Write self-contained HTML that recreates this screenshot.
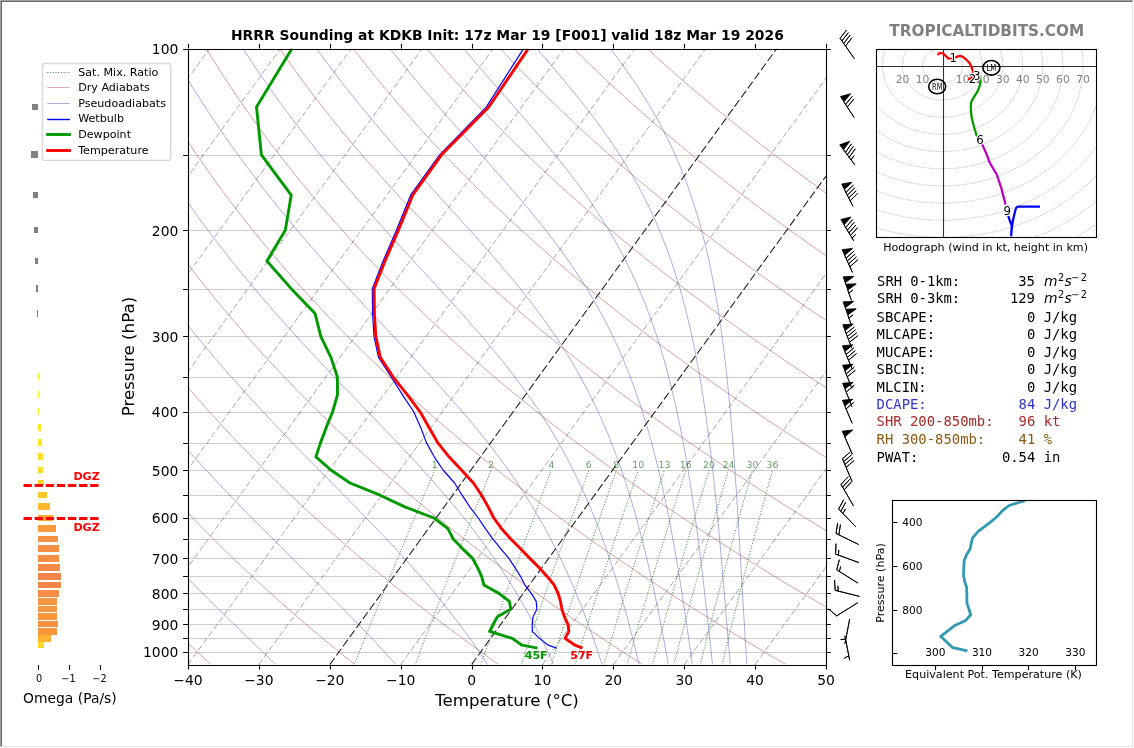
<!DOCTYPE html>
<html lang="en"><head><meta charset="utf-8"><title>HRRR Sounding at KDKB</title>
<style>
html,body{margin:0;padding:0;background:#fff;}
body{width:1134px;height:748px;overflow:hidden;font-family:"DejaVu Sans","Liberation Sans",sans-serif;}
svg{display:block;position:absolute;left:0;top:0}
text{white-space:pre}
</style></head><body>
<svg width="1134" height="748" viewBox="0 0 1134 748" font-family="'DejaVu Sans','Liberation Sans',sans-serif">
<title>HRRR Sounding at KDKB</title>
<rect x="0" y="0" width="1134" height="748" fill="#fff"/>
<clipPath id="cs"><rect x="188" y="48.6" width="638" height="616"/></clipPath>
<g clip-path="url(#cs)" fill="none">
<g stroke="#cccccc" stroke-width="1.11">
<path d="M188 155.5H826"/>
<path d="M188 230.5H826"/>
<path d="M188 289.5H826"/>
<path d="M188 336.5H826"/>
<path d="M188 377.5H826"/>
<path d="M188 412.5H826"/>
<path d="M188 443.5H826"/>
<path d="M188 470.5H826"/>
<path d="M188 495.5H826"/>
<path d="M188 518.5H826"/>
<path d="M188 539.5H826"/>
<path d="M188 558.5H826"/>
<path d="M188 576.5H826"/>
<path d="M188 593.5H826"/>
<path d="M188 609.5H826"/>
<path d="M188 624.5H826"/>
<path d="M188 638.5H826"/>
<path d="M188 652.5H826"/>
</g>
<g stroke="#a52a2a" stroke-width="0.7" stroke-opacity="0.62">
<path d="M211.18 664.6 L203.61 657.68 L196.13 650.76 L188.75 643.84 L181.47 636.91 L174.27 629.99 L167.17 623.07 L160.16 616.15 L153.24 609.23 L146.41 602.31 L139.67 595.39 L133.01 588.47 L126.45 581.54 L119.97 574.62 L113.57 567.7 L107.27 560.78 L101.05 553.86 L94.91 546.94 L88.85 540.02 L82.88 533.09 L77 526.17 L71.19 519.25 L65.47 512.33 L59.82 505.41 L54.26 498.49 L48.78 491.57 L43.37 484.64 L38.04 477.72 L32.79 470.8 L27.62 463.88 L22.53 456.96 L17.51 450.04 L12.56 443.12 L7.69 436.2 L2.9 429.27 L-1.82 422.35 L-6.47 415.43 L-11.04 408.51 L-15.55 401.59 L-19.98 394.67 L-24.34 387.75 L-28.63 380.82 L-32.85 373.9 L-37 366.98 L-41.08 360.06 L-45.1 353.14 L-49.04 346.22 L-52.92 339.3 L-56.73 332.38 L-60.48 325.45 L-64.16 318.53 L-67.77 311.61 L-71.32 304.69 L-74.8 297.77 L-78.22 290.85 L-81.58 283.93 L-84.88 277 L-88.11 270.08 L-91.28 263.16 L-94.39 256.24 L-97.43 249.32 L-100.42 242.4 L-103.35 235.48 L-106.21 228.56 L-109.02 221.63 L-111.77 214.71 L-114.46 207.79 L-117.09 200.87 L-119.67 193.95 L-122.18 187.03 L-124.65 180.11 L-127.05 173.18 L-129.4 166.26 L-131.69 159.34 L-133.93 152.42 L-136.12 145.5 L-138.25 138.58 L-140.32 131.66 L-142.35 124.73 L-144.32 117.81 L-146.24 110.89 L-148.1 103.97 L-149.92 97.05 L-151.68 90.13 L-153.39 83.21 L-155.05 76.29 L-156.66 69.36 L-158.22 62.44 L-159.73 55.52 L-161.2 48.6"/>
<path d="M354.94 664.6 L346.29 657.68 L337.75 650.76 L329.3 643.84 L320.96 636.91 L312.72 629.99 L304.58 623.07 L296.53 616.15 L288.59 609.23 L280.74 602.31 L272.99 595.39 L265.33 588.47 L257.77 581.54 L250.31 574.62 L242.94 567.7 L235.66 560.78 L228.47 553.86 L221.38 546.94 L214.37 540.02 L207.46 533.09 L200.64 526.17 L193.9 519.25 L187.26 512.33 L180.7 505.41 L174.23 498.49 L167.84 491.57 L161.54 484.64 L155.33 477.72 L149.2 470.8 L143.15 463.88 L137.19 456.96 L131.31 450.04 L125.51 443.12 L119.79 436.2 L114.15 429.27 L108.6 422.35 L103.12 415.43 L97.72 408.51 L92.4 401.59 L87.16 394.67 L81.99 387.75 L76.9 380.82 L71.89 373.9 L66.95 366.98 L62.09 360.06 L57.3 353.14 L52.59 346.22 L47.95 339.3 L43.38 332.38 L38.88 325.45 L34.45 318.53 L30.1 311.61 L25.82 304.69 L21.6 297.77 L17.46 290.85 L13.38 283.93 L9.37 277 L5.43 270.08 L1.56 263.16 L-2.25 256.24 L-5.99 249.32 L-9.66 242.4 L-13.27 235.48 L-16.81 228.56 L-20.29 221.63 L-23.7 214.71 L-27.06 207.79 L-30.35 200.87 L-33.57 193.95 L-36.74 187.03 L-39.84 180.11 L-42.88 173.18 L-45.86 166.26 L-48.79 159.34 L-51.65 152.42 L-54.45 145.5 L-57.19 138.58 L-59.88 131.66 L-62.51 124.73 L-65.08 117.81 L-67.59 110.89 L-70.05 103.97 L-72.45 97.05 L-74.79 90.13 L-77.08 83.21 L-79.31 76.29 L-81.49 69.36 L-83.62 62.44 L-85.69 55.52 L-87.71 48.6"/>
<path d="M498.71 664.6 L488.98 657.68 L479.36 650.76 L469.85 643.84 L460.46 636.91 L451.17 629.99 L441.98 623.07 L432.91 616.15 L423.94 609.23 L415.07 602.31 L406.31 595.39 L397.66 588.47 L389.1 581.54 L380.65 574.62 L372.3 567.7 L364.05 560.78 L355.9 553.86 L347.85 546.94 L339.89 540.02 L332.04 533.09 L324.28 526.17 L316.62 519.25 L309.05 512.33 L301.57 505.41 L294.19 498.49 L286.91 491.57 L279.71 484.64 L272.61 477.72 L265.6 470.8 L258.68 463.88 L251.85 456.96 L245.11 450.04 L238.45 443.12 L231.89 436.2 L225.41 429.27 L219.02 422.35 L212.71 415.43 L206.49 408.51 L200.35 401.59 L194.3 394.67 L188.33 387.75 L182.44 380.82 L176.63 373.9 L170.91 366.98 L165.26 360.06 L159.7 353.14 L154.22 346.22 L148.81 339.3 L143.48 332.38 L138.24 325.45 L133.06 318.53 L127.97 311.61 L122.95 304.69 L118.01 297.77 L113.14 290.85 L108.34 283.93 L103.62 277 L98.97 270.08 L94.4 263.16 L89.89 256.24 L85.46 249.32 L81.1 242.4 L76.81 235.48 L72.59 228.56 L68.44 221.63 L64.36 214.71 L60.35 207.79 L56.4 200.87 L52.52 193.95 L48.71 187.03 L44.97 180.11 L41.29 173.18 L37.67 166.26 L34.12 159.34 L30.64 152.42 L27.22 145.5 L23.86 138.58 L20.57 131.66 L17.34 124.73 L14.17 117.81 L11.06 110.89 L8.01 103.97 L5.02 97.05 L2.1 90.13 L-0.77 83.21 L-3.58 76.29 L-6.33 69.36 L-9.02 62.44 L-11.65 55.52 L-14.22 48.6"/>
<path d="M642.47 664.6 L631.66 657.68 L620.98 650.76 L610.4 643.84 L599.95 636.91 L589.61 629.99 L579.39 623.07 L569.28 616.15 L559.29 609.23 L549.41 602.31 L539.64 595.39 L529.98 588.47 L520.43 581.54 L510.99 574.62 L501.66 567.7 L492.44 560.78 L483.33 553.86 L474.32 546.94 L465.41 540.02 L456.61 533.09 L447.92 526.17 L439.33 519.25 L430.84 512.33 L422.45 505.41 L414.16 498.49 L405.97 491.57 L397.89 484.64 L389.9 477.72 L382 470.8 L374.21 463.88 L366.51 456.96 L358.91 450.04 L351.4 443.12 L343.98 436.2 L336.66 429.27 L329.43 422.35 L322.3 415.43 L315.25 408.51 L308.3 401.59 L301.43 394.67 L294.66 387.75 L287.97 380.82 L281.37 373.9 L274.86 366.98 L268.44 360.06 L262.1 353.14 L255.85 346.22 L249.68 339.3 L243.59 332.38 L237.59 325.45 L231.67 318.53 L225.84 311.61 L220.08 304.69 L214.41 297.77 L208.82 290.85 L203.3 283.93 L197.87 277 L192.51 270.08 L187.24 263.16 L182.03 256.24 L176.91 249.32 L171.86 242.4 L166.89 235.48 L161.99 228.56 L157.17 221.63 L152.42 214.71 L147.75 207.79 L143.15 200.87 L138.62 193.95 L134.16 187.03 L129.77 180.11 L125.46 173.18 L121.21 166.26 L117.03 159.34 L112.93 152.42 L108.89 145.5 L104.92 138.58 L101.01 131.66 L97.18 124.73 L93.41 117.81 L89.7 110.89 L86.07 103.97 L82.49 97.05 L78.98 90.13 L75.54 83.21 L72.16 76.29 L68.84 69.36 L65.59 62.44 L62.39 55.52 L59.26 48.6"/>
<path d="M786.24 664.6 L774.35 657.68 L762.59 650.76 L750.95 643.84 L739.45 636.91 L728.06 629.99 L716.8 623.07 L705.66 616.15 L694.64 609.23 L683.74 602.31 L672.96 595.39 L662.3 588.47 L651.76 581.54 L641.34 574.62 L631.03 567.7 L620.83 560.78 L610.75 553.86 L600.79 546.94 L590.93 540.02 L581.19 533.09 L571.56 526.17 L562.04 519.25 L552.63 512.33 L543.32 505.41 L534.13 498.49 L525.04 491.57 L516.06 484.64 L507.18 477.72 L498.41 470.8 L489.74 463.88 L481.17 456.96 L472.71 450.04 L464.34 443.12 L456.08 436.2 L447.92 429.27 L439.85 422.35 L431.89 415.43 L424.02 408.51 L416.25 401.59 L408.57 394.67 L400.99 387.75 L393.51 380.82 L386.12 373.9 L378.82 366.98 L371.61 360.06 L364.5 353.14 L357.48 346.22 L350.54 339.3 L343.7 332.38 L336.95 325.45 L330.28 318.53 L323.71 311.61 L317.22 304.69 L310.81 297.77 L304.5 290.85 L298.26 283.93 L292.12 277 L286.05 270.08 L280.07 263.16 L274.17 256.24 L268.36 249.32 L262.62 242.4 L256.97 235.48 L251.4 228.56 L245.9 221.63 L240.49 214.71 L235.15 207.79 L229.89 200.87 L224.71 193.95 L219.61 187.03 L214.58 180.11 L209.63 173.18 L204.75 166.26 L199.94 159.34 L195.21 152.42 L190.56 145.5 L185.97 138.58 L181.46 131.66 L177.02 124.73 L172.65 117.81 L168.35 110.89 L164.12 103.97 L159.96 97.05 L155.87 90.13 L151.85 83.21 L147.9 76.29 L144.01 69.36 L140.19 62.44 L136.44 55.52 L132.75 48.6"/>
<path d="M930 664.6 L917.04 657.68 L904.2 650.76 L891.51 643.84 L878.94 636.91 L866.51 629.99 L854.2 623.07 L842.03 616.15 L829.99 609.23 L818.07 602.31 L806.29 595.39 L794.62 588.47 L783.09 581.54 L771.68 574.62 L760.39 567.7 L749.22 560.78 L738.18 553.86 L727.26 546.94 L716.45 540.02 L705.77 533.09 L695.2 526.17 L684.75 519.25 L674.42 512.33 L664.2 505.41 L654.1 498.49 L644.11 491.57 L634.23 484.64 L624.46 477.72 L614.81 470.8 L605.27 463.88 L595.83 456.96 L586.5 450.04 L577.29 443.12 L568.18 436.2 L559.17 429.27 L550.27 422.35 L541.48 415.43 L532.78 408.51 L524.2 401.59 L515.71 394.67 L507.32 387.75 L499.04 380.82 L490.86 373.9 L482.77 366.98 L474.79 360.06 L466.9 353.14 L459.11 346.22 L451.41 339.3 L443.81 332.38 L436.3 325.45 L428.89 318.53 L421.58 311.61 L414.35 304.69 L407.22 297.77 L400.18 290.85 L393.23 283.93 L386.37 277 L379.59 270.08 L372.91 263.16 L366.31 256.24 L359.81 249.32 L353.39 242.4 L347.05 235.48 L340.8 228.56 L334.63 221.63 L328.55 214.71 L322.55 207.79 L316.64 200.87 L310.81 193.95 L305.06 187.03 L299.38 180.11 L293.79 173.18 L288.28 166.26 L282.85 159.34 L277.5 152.42 L272.22 145.5 L267.03 138.58 L261.91 131.66 L256.86 124.73 L251.89 117.81 L247 110.89 L242.18 103.97 L237.43 97.05 L232.76 90.13 L228.16 83.21 L223.63 76.29 L219.18 69.36 L214.79 62.44 L210.48 55.52 L206.24 48.6"/>
<path d="M1073.77 664.6 L1059.72 657.68 L1045.82 650.76 L1032.06 643.84 L1018.43 636.91 L1004.95 629.99 L991.61 623.07 L978.41 616.15 L965.34 609.23 L952.41 602.31 L939.61 595.39 L926.95 588.47 L914.42 581.54 L902.02 574.62 L889.75 567.7 L877.61 560.78 L865.61 553.86 L853.73 546.94 L841.97 540.02 L830.34 533.09 L818.84 526.17 L807.46 519.25 L796.21 512.33 L785.07 505.41 L774.06 498.49 L763.17 491.57 L752.4 484.64 L741.75 477.72 L731.21 470.8 L720.79 463.88 L710.49 456.96 L700.3 450.04 L690.23 443.12 L680.27 436.2 L670.42 429.27 L660.69 422.35 L651.06 415.43 L641.55 408.51 L632.14 401.59 L622.85 394.67 L613.66 387.75 L604.57 380.82 L595.6 373.9 L586.73 366.98 L577.96 360.06 L569.3 353.14 L560.73 346.22 L552.28 339.3 L543.92 332.38 L535.66 325.45 L527.5 318.53 L519.45 311.61 L511.49 304.69 L503.62 297.77 L495.86 290.85 L488.19 283.93 L480.61 277 L473.13 270.08 L465.75 263.16 L458.45 256.24 L451.25 249.32 L444.15 242.4 L437.13 235.48 L430.2 228.56 L423.37 221.63 L416.62 214.71 L409.96 207.79 L403.39 200.87 L396.9 193.95 L390.5 187.03 L384.19 180.11 L377.96 173.18 L371.82 166.26 L365.76 159.34 L359.79 152.42 L353.89 145.5 L348.08 138.58 L342.35 131.66 L336.7 124.73 L331.13 117.81 L325.64 110.89 L320.23 103.97 L314.9 97.05 L309.65 90.13 L304.47 83.21 L299.37 76.29 L294.35 69.36 L289.4 62.44 L284.52 55.52 L279.72 48.6"/>
<path d="M1217.54 664.6 L1202.41 657.68 L1187.43 650.76 L1172.61 643.84 L1157.93 636.91 L1143.4 629.99 L1129.02 623.07 L1114.78 616.15 L1100.69 609.23 L1086.74 602.31 L1072.93 595.39 L1059.27 588.47 L1045.75 581.54 L1032.36 574.62 L1019.12 567.7 L1006.01 560.78 L993.03 553.86 L980.2 546.94 L967.49 540.02 L954.92 533.09 L942.48 526.17 L930.18 519.25 L918 512.33 L905.95 505.41 L894.03 498.49 L882.24 491.57 L870.57 484.64 L859.03 477.72 L847.62 470.8 L836.32 463.88 L825.15 456.96 L814.1 450.04 L803.18 443.12 L792.37 436.2 L781.68 429.27 L771.11 422.35 L760.65 415.43 L750.32 408.51 L740.09 401.59 L729.98 394.67 L719.99 387.75 L710.11 380.82 L700.34 373.9 L690.68 366.98 L681.13 360.06 L671.69 353.14 L662.36 346.22 L653.14 339.3 L644.03 332.38 L635.02 325.45 L626.11 318.53 L617.31 311.61 L608.62 304.69 L600.03 297.77 L591.54 290.85 L583.15 283.93 L574.86 277 L566.67 270.08 L558.59 263.16 L550.6 256.24 L542.7 249.32 L534.91 242.4 L527.21 235.48 L519.61 228.56 L512.1 221.63 L504.68 214.71 L497.36 207.79 L490.13 200.87 L483 193.95 L475.95 187.03 L469 180.11 L462.13 173.18 L455.36 166.26 L448.67 159.34 L442.07 152.42 L435.56 145.5 L429.14 138.58 L422.8 131.66 L416.54 124.73 L410.38 117.81 L404.29 110.89 L398.29 103.97 L392.37 97.05 L386.54 90.13 L380.78 83.21 L375.11 76.29 L369.51 69.36 L364 62.44 L358.57 55.52 L353.21 48.6"/>
<path d="M1361.3 664.6 L1345.09 657.68 L1329.05 650.76 L1313.16 643.84 L1297.42 636.91 L1281.85 629.99 L1266.42 623.07 L1251.15 616.15 L1236.04 609.23 L1221.07 602.31 L1206.26 595.39 L1191.59 588.47 L1177.07 581.54 L1162.7 574.62 L1148.48 567.7 L1134.4 560.78 L1120.46 553.86 L1106.66 546.94 L1093.01 540.02 L1079.5 533.09 L1066.12 526.17 L1052.89 519.25 L1039.79 512.33 L1026.83 505.41 L1014 498.49 L1001.3 491.57 L988.74 484.64 L976.32 477.72 L964.02 470.8 L951.85 463.88 L939.81 456.96 L927.9 450.04 L916.12 443.12 L904.46 436.2 L892.93 429.27 L881.53 422.35 L870.24 415.43 L859.08 408.51 L848.04 401.59 L837.12 394.67 L826.32 387.75 L815.64 380.82 L805.08 373.9 L794.64 366.98 L784.31 360.06 L774.09 353.14 L763.99 346.22 L754.01 339.3 L744.14 332.38 L734.37 325.45 L724.72 318.53 L715.18 311.61 L705.75 304.69 L696.43 297.77 L687.22 290.85 L678.11 283.93 L669.11 277 L660.21 270.08 L651.42 263.16 L642.74 256.24 L634.15 249.32 L625.67 242.4 L617.29 235.48 L609.01 228.56 L600.83 221.63 L592.75 214.71 L584.76 207.79 L576.88 200.87 L569.09 193.95 L561.4 187.03 L553.8 180.11 L546.3 173.18 L538.89 166.26 L531.58 159.34 L524.36 152.42 L517.23 145.5 L510.19 138.58 L503.24 131.66 L496.39 124.73 L489.62 117.81 L482.94 110.89 L476.35 103.97 L469.84 97.05 L463.42 90.13 L457.09 83.21 L450.84 76.29 L444.68 69.36 L438.6 62.44 L432.61 55.52 L426.7 48.6"/>
<path d="M1505.07 664.6 L1487.78 657.68 L1470.66 650.76 L1453.71 643.84 L1436.92 636.91 L1420.29 629.99 L1403.83 623.07 L1387.53 616.15 L1371.39 609.23 L1355.41 602.31 L1339.58 595.39 L1323.92 588.47 L1308.4 581.54 L1293.05 574.62 L1277.84 567.7 L1262.79 560.78 L1247.89 553.86 L1233.13 546.94 L1218.53 540.02 L1204.07 533.09 L1189.76 526.17 L1175.6 519.25 L1161.58 512.33 L1147.7 505.41 L1133.97 498.49 L1120.37 491.57 L1106.92 484.64 L1093.6 477.72 L1080.42 470.8 L1067.38 463.88 L1054.47 456.96 L1041.7 450.04 L1029.06 443.12 L1016.56 436.2 L1004.19 429.27 L991.94 422.35 L979.83 415.43 L967.85 408.51 L955.99 401.59 L944.26 394.67 L932.66 387.75 L921.18 380.82 L909.82 373.9 L898.59 366.98 L887.48 360.06 L876.49 353.14 L865.62 346.22 L854.87 339.3 L844.24 332.38 L833.73 325.45 L823.33 318.53 L813.05 311.61 L802.89 304.69 L792.84 297.77 L782.9 290.85 L773.07 283.93 L763.36 277 L753.75 270.08 L744.26 263.16 L734.88 256.24 L725.6 249.32 L716.43 242.4 L707.37 235.48 L698.41 228.56 L689.56 221.63 L680.81 214.71 L672.17 207.79 L663.63 200.87 L655.19 193.95 L646.85 187.03 L638.61 180.11 L630.47 173.18 L622.43 166.26 L614.49 159.34 L606.65 152.42 L598.9 145.5 L591.25 138.58 L583.69 131.66 L576.23 124.73 L568.86 117.81 L561.58 110.89 L554.4 103.97 L547.31 97.05 L540.31 90.13 L533.4 83.21 L526.58 76.29 L519.85 69.36 L513.21 62.44 L506.65 55.52 L500.18 48.6"/>
<path d="M1648.83 664.6 L1630.47 657.68 L1612.27 650.76 L1594.26 643.84 L1576.41 636.91 L1558.74 629.99 L1541.24 623.07 L1523.9 616.15 L1506.74 609.23 L1489.74 602.31 L1472.91 595.39 L1456.24 588.47 L1439.73 581.54 L1423.39 574.62 L1407.2 567.7 L1391.18 560.78 L1375.31 553.86 L1359.6 546.94 L1344.05 540.02 L1328.65 533.09 L1313.4 526.17 L1298.31 519.25 L1283.37 512.33 L1268.58 505.41 L1253.93 498.49 L1239.44 491.57 L1225.09 484.64 L1210.88 477.72 L1196.82 470.8 L1182.91 463.88 L1169.13 456.96 L1155.5 450.04 L1142.01 443.12 L1128.66 436.2 L1115.44 429.27 L1102.36 422.35 L1089.42 415.43 L1076.61 408.51 L1063.94 401.59 L1051.4 394.67 L1038.99 387.75 L1026.71 380.82 L1014.56 373.9 L1002.55 366.98 L990.65 360.06 L978.89 353.14 L967.25 346.22 L955.74 339.3 L944.35 332.38 L933.09 325.45 L921.94 318.53 L910.92 311.61 L900.02 304.69 L889.24 297.77 L878.58 290.85 L868.03 283.93 L857.61 277 L847.29 270.08 L837.1 263.16 L827.02 256.24 L817.05 249.32 L807.19 242.4 L797.45 235.48 L787.81 228.56 L778.29 221.63 L768.88 214.71 L759.57 207.79 L750.37 200.87 L741.28 193.95 L732.3 187.03 L723.42 180.11 L714.64 173.18 L705.97 166.26 L697.4 159.34 L688.93 152.42 L680.57 145.5 L672.3 138.58 L664.14 131.66 L656.07 124.73 L648.1 117.81 L640.23 110.89 L632.46 103.97 L624.78 97.05 L617.2 90.13 L609.71 83.21 L602.32 76.29 L595.02 69.36 L587.81 62.44 L580.69 55.52 L573.67 48.6"/>
<path d="M1792.6 664.6 L1773.15 657.68 L1753.89 650.76 L1734.81 643.84 L1715.91 636.91 L1697.19 629.99 L1678.64 623.07 L1660.28 616.15 L1642.09 609.23 L1624.07 602.31 L1606.23 595.39 L1588.56 588.47 L1571.06 581.54 L1553.73 574.62 L1536.57 567.7 L1519.57 560.78 L1502.74 553.86 L1486.07 546.94 L1469.57 540.02 L1453.23 533.09 L1437.05 526.17 L1421.02 519.25 L1405.16 512.33 L1389.45 505.41 L1373.9 498.49 L1358.5 491.57 L1343.26 484.64 L1328.17 477.72 L1313.23 470.8 L1298.44 463.88 L1283.8 456.96 L1269.3 450.04 L1254.95 443.12 L1240.75 436.2 L1226.69 429.27 L1212.78 422.35 L1199.01 415.43 L1185.38 408.51 L1171.89 401.59 L1158.54 394.67 L1145.32 387.75 L1132.25 380.82 L1119.31 373.9 L1106.5 366.98 L1093.83 360.06 L1081.29 353.14 L1068.88 346.22 L1056.61 339.3 L1044.46 332.38 L1032.44 325.45 L1020.55 318.53 L1008.79 311.61 L997.16 304.69 L985.65 297.77 L974.26 290.85 L963 283.93 L951.85 277 L940.83 270.08 L929.94 263.16 L919.16 256.24 L908.49 249.32 L897.95 242.4 L887.53 235.48 L877.22 228.56 L867.02 221.63 L856.94 214.71 L846.97 207.79 L837.12 200.87 L827.38 193.95 L817.74 187.03 L808.22 180.11 L798.81 173.18 L789.5 166.26 L780.31 159.34 L771.22 152.42 L762.23 145.5 L753.36 138.58 L744.58 131.66 L735.91 124.73 L727.34 117.81 L718.88 110.89 L710.51 103.97 L702.25 97.05 L694.09 90.13 L686.02 83.21 L678.05 76.29 L670.19 69.36 L662.41 62.44 L654.74 55.52 L647.16 48.6"/>
</g>
<g stroke="#0000a8" stroke-width="0.7" stroke-opacity="0.47">
<path d="M-124.45 48.6 L-122.71 55.52 L-120.92 62.44 L-119.08 69.36 L-117.18 76.29 L-115.23 83.21 L-113.23 90.13 L-111.18 97.05 L-109.07 103.97 L-106.91 110.89 L-104.69 117.81 L-102.42 124.73 L-100.1 131.66 L-97.72 138.58 L-95.28 145.5 L-92.78 152.42 L-90.23 159.34 L-87.63 166.26 L-84.96 173.18 L-82.24 180.11 L-79.45 187.03 L-76.61 193.95 L-73.71 200.87 L-70.75 207.79 L-67.73 214.71 L-64.65 221.63 L-61.5 228.56 L-58.3 235.48 L-55.03 242.4 L-51.7 249.32 L-48.3 256.24 L-44.85 263.16 L-41.33 270.08 L-37.74 277 L-34.09 283.93 L-30.37 290.85 L-26.59 297.77 L-22.74 304.69 L-18.82 311.61 L-14.84 318.53 L-10.78 325.45 L-6.66 332.38 L-2.47 339.3 L1.79 346.22 L6.12 353.14 L10.52 360.06 L14.99 366.98 L19.54 373.9 L24.15 380.82 L28.84 387.75 L33.61 394.67 L38.44 401.59 L43.35 408.51 L48.34 415.43 L53.4 422.35 L58.53 429.27 L63.74 436.2 L69.03 443.12 L74.4 450.04 L79.84 456.96 L85.36 463.88 L90.96 470.8 L96.63 477.72 L102.39 484.64 L108.22 491.57 L114.13 498.49 L120.11 505.41 L126.18 512.33 L132.32 519.25 L138.54 526.17 L144.83 533.09 L151.2 540.02 L157.65 546.94 L164.17 553.86 L170.75 560.78 L177.41 567.7 L184.13 574.62 L190.92 581.54 L197.77 588.47 L204.68 595.39 L211.64 602.31 L218.65 609.23 L225.71 616.15 L232.8 623.07 L239.93 629.99 L247.09 636.91 L254.27 643.84 L261.46 650.76 L268.67 657.68 L275.87 664.6"/>
<path d="M-50.97 48.6 L-48.67 55.52 L-46.32 62.44 L-43.91 69.36 L-41.44 76.29 L-38.92 83.21 L-36.34 90.13 L-33.71 97.05 L-31.01 103.97 L-28.26 110.89 L-25.45 117.81 L-22.58 124.73 L-19.65 131.66 L-16.66 138.58 L-13.61 145.5 L-10.5 152.42 L-7.32 159.34 L-4.09 166.26 L-0.79 173.18 L2.57 180.11 L5.99 187.03 L9.48 193.95 L13.04 200.87 L16.65 207.79 L20.34 214.71 L24.09 221.63 L27.9 228.56 L31.78 235.48 L35.73 242.4 L39.75 249.32 L43.84 256.24 L47.99 263.16 L52.21 270.08 L56.51 277 L60.87 283.93 L65.31 290.85 L69.82 297.77 L74.39 304.69 L79.04 311.61 L83.77 318.53 L88.57 325.45 L93.44 332.38 L98.38 339.3 L103.4 346.22 L108.5 353.14 L113.67 360.06 L118.92 366.98 L124.24 373.9 L129.64 380.82 L135.12 387.75 L140.67 394.67 L146.3 401.59 L152.01 408.51 L157.79 415.43 L163.65 422.35 L169.59 429.27 L175.61 436.2 L181.7 443.12 L187.86 450.04 L194.1 456.96 L200.41 463.88 L206.79 470.8 L213.24 477.72 L219.76 484.64 L226.34 491.57 L232.99 498.49 L239.69 505.41 L246.45 512.33 L253.25 519.25 L260.11 526.17 L267 533.09 L273.93 540.02 L280.89 546.94 L287.87 553.86 L294.87 560.78 L301.87 567.7 L308.87 574.62 L315.86 581.54 L322.84 588.47 L329.79 595.39 L336.7 602.31 L343.57 609.23 L350.38 616.15 L357.13 623.07 L363.81 629.99 L370.41 636.91 L376.93 643.84 L383.35 650.76 L389.67 657.68 L395.89 664.6"/>
<path d="M22.52 48.6 L25.37 55.52 L28.29 62.44 L31.26 69.36 L34.29 76.29 L37.39 83.21 L40.54 90.13 L43.76 97.05 L47.04 103.97 L50.38 110.89 L53.79 117.81 L57.26 124.73 L60.8 131.66 L64.39 138.58 L68.06 145.5 L71.79 152.42 L75.58 159.34 L79.45 166.26 L83.38 173.18 L87.38 180.11 L91.44 187.03 L95.58 193.95 L99.78 200.87 L104.06 207.79 L108.4 214.71 L112.81 221.63 L117.3 228.56 L121.86 235.48 L126.49 242.4 L131.19 249.32 L135.97 256.24 L140.82 263.16 L145.74 270.08 L150.74 277 L155.81 283.93 L160.96 290.85 L166.18 297.77 L171.48 304.69 L176.85 311.61 L182.31 318.53 L187.83 325.45 L193.44 332.38 L199.12 339.3 L204.87 346.22 L210.7 353.14 L216.61 360.06 L222.59 366.98 L228.64 373.9 L234.77 380.82 L240.97 387.75 L247.23 394.67 L253.57 401.59 L259.96 408.51 L266.42 415.43 L272.94 422.35 L279.52 429.27 L286.15 436.2 L292.82 443.12 L299.53 450.04 L306.28 456.96 L313.07 463.88 L319.87 470.8 L326.69 477.72 L333.52 484.64 L340.34 491.57 L347.16 498.49 L353.96 505.41 L360.74 512.33 L367.47 519.25 L374.16 526.17 L380.8 533.09 L387.37 540.02 L393.86 546.94 L400.28 553.86 L406.6 560.78 L412.83 567.7 L418.95 574.62 L424.97 581.54 L430.87 588.47 L436.65 595.39 L442.31 602.31 L447.85 609.23 L453.26 616.15 L458.54 623.07 L463.7 629.99 L468.73 636.91 L473.63 643.84 L478.41 650.76 L483.07 657.68 L487.61 664.6"/>
<path d="M96.01 48.6 L99.42 55.52 L102.89 62.44 L106.43 69.36 L110.03 76.29 L113.7 83.21 L117.43 90.13 L121.23 97.05 L125.1 103.97 L129.03 110.89 L133.03 117.81 L137.1 124.73 L141.24 131.66 L145.45 138.58 L149.72 145.5 L154.07 152.42 L158.49 159.34 L162.98 166.26 L167.54 173.18 L172.17 180.11 L176.88 187.03 L181.66 193.95 L186.51 200.87 L191.44 207.79 L196.44 214.71 L201.51 221.63 L206.66 228.56 L211.89 235.48 L217.19 242.4 L222.56 249.32 L228.01 256.24 L233.54 263.16 L239.14 270.08 L244.82 277 L250.57 283.93 L256.39 290.85 L262.29 297.77 L268.26 304.69 L274.3 311.61 L280.41 318.53 L286.59 325.45 L292.83 332.38 L299.13 339.3 L305.49 346.22 L311.91 353.14 L318.38 360.06 L324.9 366.98 L331.46 373.9 L338.05 380.82 L344.68 387.75 L351.33 394.67 L357.99 401.59 L364.66 408.51 L371.33 415.43 L377.99 422.35 L384.64 429.27 L391.25 436.2 L397.82 443.12 L404.35 450.04 L410.82 456.96 L417.22 463.88 L423.54 470.8 L429.78 477.72 L435.92 484.64 L441.97 491.57 L447.9 498.49 L453.72 505.41 L459.42 512.33 L465 519.25 L470.45 526.17 L475.77 533.09 L480.96 540.02 L486.02 546.94 L490.94 553.86 L495.74 560.78 L500.41 567.7 L504.94 574.62 L509.36 581.54 L513.65 588.47 L517.82 595.39 L521.87 602.31 L525.81 609.23 L529.64 616.15 L533.37 623.07 L536.99 629.99 L540.51 636.91 L543.94 643.84 L547.28 650.76 L550.53 657.68 L553.7 664.6"/>
<path d="M169.49 48.6 L173.46 55.52 L177.49 62.44 L181.59 69.36 L185.77 76.29 L190.01 83.21 L194.32 90.13 L198.7 97.05 L203.15 103.97 L207.67 110.89 L212.27 117.81 L216.93 124.73 L221.67 131.66 L226.48 138.58 L231.37 145.5 L236.33 152.42 L241.36 159.34 L246.47 166.26 L251.66 173.18 L256.91 180.11 L262.25 187.03 L267.65 193.95 L273.13 200.87 L278.69 207.79 L284.32 214.71 L290.02 221.63 L295.8 228.56 L301.64 235.48 L307.56 242.4 L313.54 249.32 L319.59 256.24 L325.71 263.16 L331.88 270.08 L338.12 277 L344.41 283.93 L350.75 290.85 L357.14 297.77 L363.57 304.69 L370.03 311.61 L376.52 318.53 L383.03 325.45 L389.56 332.38 L396.09 339.3 L402.62 346.22 L409.13 353.14 L415.63 360.06 L422.09 366.98 L428.5 373.9 L434.87 380.82 L441.17 387.75 L447.4 394.67 L453.55 401.59 L459.6 408.51 L465.56 415.43 L471.4 422.35 L477.14 429.27 L482.75 436.2 L488.24 443.12 L493.6 450.04 L498.82 456.96 L503.92 463.88 L508.87 470.8 L513.69 477.72 L518.38 484.64 L522.93 491.57 L527.35 498.49 L531.64 505.41 L535.8 512.33 L539.83 519.25 L543.75 526.17 L547.54 533.09 L551.22 540.02 L554.79 546.94 L558.25 553.86 L561.6 560.78 L564.86 567.7 L568.03 574.62 L571.1 581.54 L574.08 588.47 L576.98 595.39 L579.8 602.31 L582.55 609.23 L585.22 616.15 L587.82 623.07 L590.35 629.99 L592.83 636.91 L595.24 643.84 L597.59 650.76 L599.89 657.68 L602.14 664.6"/>
<path d="M242.98 48.6 L247.5 55.52 L252.09 62.44 L256.76 69.36 L261.49 76.29 L266.3 83.21 L271.18 90.13 L276.14 97.05 L281.17 103.97 L286.27 110.89 L291.45 117.81 L296.7 124.73 L302.03 131.66 L307.42 138.58 L312.9 145.5 L318.44 152.42 L324.06 159.34 L329.75 166.26 L335.51 173.18 L341.34 180.11 L347.23 187.03 L353.19 193.95 L359.22 200.87 L365.3 207.79 L371.44 214.71 L377.63 221.63 L383.87 228.56 L390.16 235.48 L396.48 242.4 L402.83 249.32 L409.21 256.24 L415.6 263.16 L422 270.08 L428.41 277 L434.8 283.93 L441.17 290.85 L447.52 297.77 L453.82 304.69 L460.08 311.61 L466.27 318.53 L472.39 325.45 L478.43 332.38 L484.38 339.3 L490.23 346.22 L495.97 353.14 L501.59 360.06 L507.1 366.98 L512.47 373.9 L517.72 380.82 L522.82 387.75 L527.8 394.67 L532.63 401.59 L537.32 408.51 L541.87 415.43 L546.29 422.35 L550.56 429.27 L554.71 436.2 L558.72 443.12 L562.6 450.04 L566.35 456.96 L569.98 463.88 L573.5 470.8 L576.9 477.72 L580.19 484.64 L583.37 491.57 L586.45 498.49 L589.44 505.41 L592.32 512.33 L595.12 519.25 L597.84 526.17 L600.47 533.09 L603.02 540.02 L605.5 546.94 L607.9 553.86 L610.24 560.78 L612.51 567.7 L614.73 574.62 L616.88 581.54 L618.98 588.47 L621.02 595.39 L623.01 602.31 L624.96 609.23 L626.86 616.15 L628.72 623.07 L630.54 629.99 L632.32 636.91 L634.07 643.84 L635.78 650.76 L637.45 657.68 L639.1 664.6"/>
<path d="M316.47 48.6 L321.53 55.52 L326.67 62.44 L331.88 69.36 L337.17 76.29 L342.53 83.21 L347.96 90.13 L353.46 97.05 L359.03 103.97 L364.68 110.89 L370.39 117.81 L376.17 124.73 L382.01 131.66 L387.92 138.58 L393.89 145.5 L399.91 152.42 L405.98 159.34 L412.11 166.26 L418.28 173.18 L424.48 180.11 L430.72 187.03 L436.98 193.95 L443.26 200.87 L449.54 207.79 L455.83 214.71 L462.1 221.63 L468.36 228.56 L474.58 235.48 L480.76 242.4 L486.9 249.32 L492.96 256.24 L498.96 263.16 L504.86 270.08 L510.68 277 L516.39 283.93 L521.99 290.85 L527.47 297.77 L532.83 304.69 L538.05 311.61 L543.13 318.53 L548.08 325.45 L552.89 332.38 L557.55 339.3 L562.07 346.22 L566.45 353.14 L570.68 360.06 L574.78 366.98 L578.74 373.9 L582.56 380.82 L586.25 387.75 L589.81 394.67 L593.25 401.59 L596.57 408.51 L599.78 415.43 L602.87 422.35 L605.85 429.27 L608.74 436.2 L611.52 443.12 L614.21 450.04 L616.8 456.96 L619.31 463.88 L621.74 470.8 L624.09 477.72 L626.37 484.64 L628.57 491.57 L630.7 498.49 L632.77 505.41 L634.78 512.33 L636.73 519.25 L638.62 526.17 L640.46 533.09 L642.25 540.02 L643.99 546.94 L645.69 553.86 L647.34 560.78 L648.96 567.7 L650.53 574.62 L652.07 581.54 L653.58 588.47 L655.05 595.39 L656.49 602.31 L657.91 609.23 L659.29 616.15 L660.65 623.07 L661.99 629.99 L663.31 636.91 L664.6 643.84 L665.88 650.76 L667.14 657.68 L668.38 664.6"/>
<path d="M389.95 48.6 L395.53 55.52 L401.16 62.44 L406.87 69.36 L412.64 76.29 L418.47 83.21 L424.36 90.13 L430.3 97.05 L436.29 103.97 L442.33 110.89 L448.41 117.81 L454.53 124.73 L460.67 131.66 L466.83 138.58 L473.01 145.5 L479.19 152.42 L485.36 159.34 L491.52 166.26 L497.65 173.18 L503.74 180.11 L509.79 187.03 L515.77 193.95 L521.69 200.87 L527.52 207.79 L533.26 214.71 L538.9 221.63 L544.42 228.56 L549.83 235.48 L555.11 242.4 L560.26 249.32 L565.27 256.24 L570.14 263.16 L574.87 270.08 L579.44 277 L583.88 283.93 L588.16 290.85 L592.3 297.77 L596.3 304.69 L600.16 311.61 L603.87 318.53 L607.45 325.45 L610.9 332.38 L614.23 339.3 L617.43 346.22 L620.51 353.14 L623.47 360.06 L626.33 366.98 L629.08 373.9 L631.72 380.82 L634.27 387.75 L636.73 394.67 L639.1 401.59 L641.38 408.51 L643.58 415.43 L645.71 422.35 L647.76 429.27 L649.74 436.2 L651.66 443.12 L653.51 450.04 L655.3 456.96 L657.03 463.88 L658.71 470.8 L660.34 477.72 L661.92 484.64 L663.45 491.57 L664.94 498.49 L666.39 505.41 L667.8 512.33 L669.17 519.25 L670.5 526.17 L671.8 533.09 L673.07 540.02 L674.32 546.94 L675.53 553.86 L676.72 560.78 L677.88 567.7 L679.02 574.62 L680.14 581.54 L681.23 588.47 L682.31 595.39 L683.37 602.31 L684.42 609.23 L685.45 616.15 L686.47 623.07 L687.47 629.99 L688.46 636.91 L689.44 643.84 L690.41 650.76 L691.37 657.68 L692.33 664.6"/>
<path d="M463.44 48.6 L469.38 55.52 L475.37 62.44 L481.39 69.36 L487.43 76.29 L493.5 83.21 L499.58 90.13 L505.65 97.05 L511.73 103.97 L517.78 110.89 L523.8 117.81 L529.79 124.73 L535.72 131.66 L541.59 138.58 L547.38 145.5 L553.09 152.42 L558.7 159.34 L564.21 166.26 L569.6 173.18 L574.87 180.11 L580 187.03 L585 193.95 L589.86 200.87 L594.57 207.79 L599.13 214.71 L603.55 221.63 L607.81 228.56 L611.93 235.48 L615.9 242.4 L619.72 249.32 L623.4 256.24 L626.94 263.16 L630.34 270.08 L633.61 277 L636.75 283.93 L639.77 290.85 L642.66 297.77 L645.45 304.69 L648.12 311.61 L650.68 318.53 L653.15 325.45 L655.51 332.38 L657.79 339.3 L659.97 346.22 L662.07 353.14 L664.09 360.06 L666.04 366.98 L667.91 373.9 L669.71 380.82 L671.44 387.75 L673.12 394.67 L674.73 401.59 L676.28 408.51 L677.78 415.43 L679.23 422.35 L680.64 429.27 L681.99 436.2 L683.3 443.12 L684.57 450.04 L685.81 456.96 L687 463.88 L688.16 470.8 L689.29 477.72 L690.38 484.64 L691.45 491.57 L692.49 498.49 L693.5 505.41 L694.49 512.33 L695.46 519.25 L696.4 526.17 L697.32 533.09 L698.23 540.02 L699.11 546.94 L699.98 553.86 L700.84 560.78 L701.68 567.7 L702.51 574.62 L703.33 581.54 L704.13 588.47 L704.93 595.39 L705.71 602.31 L706.49 609.23 L707.26 616.15 L708.03 623.07 L708.79 629.99 L709.54 636.91 L710.3 643.84 L711.04 650.76 L711.79 657.68 L712.53 664.6"/>
<path d="M536.93 48.6 L542.88 55.52 L548.81 62.44 L554.69 69.36 L560.53 76.29 L566.3 83.21 L571.99 90.13 L577.59 97.05 L583.1 103.97 L588.5 110.89 L593.77 117.81 L598.93 124.73 L603.94 131.66 L608.82 138.58 L613.55 145.5 L618.14 152.42 L622.57 159.34 L626.85 166.26 L630.98 173.18 L634.96 180.11 L638.78 187.03 L642.46 193.95 L645.99 200.87 L649.38 207.79 L652.63 214.71 L655.75 221.63 L658.74 228.56 L661.6 235.48 L664.34 242.4 L666.96 249.32 L669.48 256.24 L671.88 263.16 L674.19 270.08 L676.4 277 L678.51 283.93 L680.54 290.85 L682.48 297.77 L684.34 304.69 L686.12 311.61 L687.83 318.53 L689.47 325.45 L691.05 332.38 L692.56 339.3 L694.01 346.22 L695.4 353.14 L696.74 360.06 L698.03 366.98 L699.28 373.9 L700.47 380.82 L701.62 387.75 L702.73 394.67 L703.81 401.59 L704.84 408.51 L705.84 415.43 L706.81 422.35 L707.74 429.27 L708.65 436.2 L709.53 443.12 L710.38 450.04 L711.21 456.96 L712.01 463.88 L712.8 470.8 L713.56 477.72 L714.3 484.64 L715.03 491.57 L715.74 498.49 L716.43 505.41 L717.11 512.33 L717.77 519.25 L718.43 526.17 L719.07 533.09 L719.7 540.02 L720.33 546.94 L720.94 553.86 L721.55 560.78 L722.15 567.7 L722.74 574.62 L723.33 581.54 L723.92 588.47 L724.5 595.39 L725.08 602.31 L725.65 609.23 L726.23 616.15 L726.8 623.07 L727.38 629.99 L727.95 636.91 L728.53 643.84 L729.1 650.76 L729.68 657.68 L730.26 664.6"/>
<path d="M610.41 48.6 L615.66 55.52 L620.79 62.44 L625.79 69.36 L630.64 76.29 L635.35 83.21 L639.91 90.13 L644.32 97.05 L648.57 103.97 L652.67 110.89 L656.61 117.81 L660.4 124.73 L664.04 131.66 L667.52 138.58 L670.86 145.5 L674.06 152.42 L677.11 159.34 L680.03 166.26 L682.83 173.18 L685.5 180.11 L688.04 187.03 L690.48 193.95 L692.8 200.87 L695.01 207.79 L697.13 214.71 L699.15 221.63 L701.07 228.56 L702.91 235.48 L704.67 242.4 L706.34 249.32 L707.94 256.24 L709.47 263.16 L710.93 270.08 L712.32 277 L713.65 283.93 L714.93 290.85 L716.15 297.77 L717.31 304.69 L718.42 311.61 L719.49 318.53 L720.51 325.45 L721.49 332.38 L722.43 339.3 L723.33 346.22 L724.2 353.14 L725.03 360.06 L725.82 366.98 L726.59 373.9 L727.33 380.82 L728.04 387.75 L728.72 394.67 L729.38 401.59 L730.02 408.51 L730.64 415.43 L731.23 422.35 L731.81 429.27 L732.37 436.2 L732.91 443.12 L733.44 450.04 L733.96 456.96 L734.46 463.88 L734.95 470.8 L735.42 477.72 L735.89 484.64 L736.35 491.57 L736.8 498.49 L737.24 505.41 L737.67 512.33 L738.1 519.25 L738.53 526.17 L738.94 533.09 L739.36 540.02 L739.77 546.94 L740.18 553.86 L740.59 560.78 L740.99 567.7 L741.4 574.62 L741.81 581.54 L742.21 588.47 L742.62 595.39 L743.03 602.31 L743.44 609.23 L743.85 616.15 L744.27 623.07 L744.69 629.99 L745.12 636.91 L745.55 643.84 L745.98 650.76 L746.42 657.68 L746.87 664.6"/>
</g>
<g stroke="#000">
<path d="M-237.33 664.6L209.57 48.6" stroke-width="0.85" stroke-opacity="0.4" stroke-dasharray="6.0 2.8"/>
<path d="M-166.44 664.6L280.46 48.6" stroke-width="0.85" stroke-opacity="0.4" stroke-dasharray="6.0 2.8"/>
<path d="M-95.56 664.6L351.35 48.6" stroke-width="0.85" stroke-opacity="0.4" stroke-dasharray="6.0 2.8"/>
<path d="M-24.67 664.6L422.24 48.6" stroke-width="0.85" stroke-opacity="0.4" stroke-dasharray="6.0 2.8"/>
<path d="M46.22 664.6L493.13 48.6" stroke-width="0.85" stroke-opacity="0.4" stroke-dasharray="6.0 2.8"/>
<path d="M117.11 664.6L564.02 48.6" stroke-width="0.85" stroke-opacity="0.4" stroke-dasharray="6.0 2.8"/>
<path d="M188 664.6L634.91 48.6" stroke-width="0.85" stroke-opacity="0.4" stroke-dasharray="6.0 2.8"/>
<path d="M258.89 664.6L705.8 48.6" stroke-width="0.85" stroke-opacity="0.4" stroke-dasharray="6.0 2.8"/>
<path d="M329.78 664.6L776.69 48.6" stroke-width="1.05" stroke-opacity="0.9" stroke-dasharray="8.2 3.1"/>
<path d="M400.67 664.6L847.57 48.6" stroke-width="0.85" stroke-opacity="0.4" stroke-dasharray="6.0 2.8"/>
<path d="M471.56 664.6L918.46 48.6" stroke-width="1.05" stroke-opacity="0.9" stroke-dasharray="8.2 3.1"/>
<path d="M542.44 664.6L989.35 48.6" stroke-width="0.85" stroke-opacity="0.4" stroke-dasharray="6.0 2.8"/>
<path d="M613.33 664.6L1060.24 48.6" stroke-width="0.85" stroke-opacity="0.4" stroke-dasharray="6.0 2.8"/>
<path d="M684.22 664.6L1131.13 48.6" stroke-width="0.85" stroke-opacity="0.4" stroke-dasharray="6.0 2.8"/>
<path d="M755.11 664.6L1202.02 48.6" stroke-width="0.85" stroke-opacity="0.4" stroke-dasharray="6.0 2.8"/>
<path d="M826 664.6L1272.91 48.6" stroke-width="0.85" stroke-opacity="0.4" stroke-dasharray="6.0 2.8"/>
</g>
<g stroke="#006400" stroke-width="1.04" stroke-opacity="0.7" stroke-dasharray="1.04 1.72">
<path d="M354.26 664.6 L356.95 657.9 L359.65 651.2 L362.36 644.49 L365.07 637.79 L367.79 631.09 L370.51 624.39 L373.24 617.68 L375.98 610.98 L378.72 604.28 L381.46 597.58 L384.22 590.87 L386.97 584.17 L389.74 577.47 L392.5 570.77 L395.28 564.06 L398.06 557.36 L400.84 550.66 L403.63 543.96 L406.43 537.26 L409.23 530.55 L412.04 523.85 L414.85 517.15 L417.67 510.45 L420.49 503.74 L423.32 497.04 L426.15 490.34 L428.99 483.64 L431.83 476.93 L434.68 470.23"/>
<path d="M415.17 664.6 L417.7 657.9 L420.23 651.2 L422.77 644.49 L425.32 637.79 L427.87 631.09 L430.43 624.39 L432.99 617.68 L435.57 610.98 L438.15 604.28 L440.73 597.58 L443.32 590.87 L445.92 584.17 L448.52 577.47 L451.13 570.77 L453.75 564.06 L456.37 557.36 L459 550.66 L461.63 543.96 L464.27 537.26 L466.92 530.55 L469.57 523.85 L472.23 517.15 L474.9 510.45 L477.57 503.74 L480.24 497.04 L482.93 490.34 L485.62 483.64 L488.31 476.93 L491.01 470.23"/>
<path d="M480.71 664.6 L483.05 657.9 L485.4 651.2 L487.75 644.49 L490.12 637.79 L492.49 631.09 L494.86 624.39 L497.25 617.68 L499.64 610.98 L502.04 604.28 L504.44 597.58 L506.85 590.87 L509.27 584.17 L511.7 577.47 L514.13 570.77 L516.57 564.06 L519.02 557.36 L521.47 550.66 L523.93 543.96 L526.4 537.26 L528.88 530.55 L531.36 523.85 L533.84 517.15 L536.34 510.45 L538.84 503.74 L541.35 497.04 L543.86 490.34 L546.38 483.64 L548.91 476.93 L551.44 470.23"/>
<path d="M521.36 664.6 L523.58 657.9 L525.81 651.2 L528.04 644.49 L530.29 637.79 L532.54 631.09 L534.8 624.39 L537.07 617.68 L539.34 610.98 L541.63 604.28 L543.92 597.58 L546.21 590.87 L548.52 584.17 L550.83 577.47 L553.15 570.77 L555.48 564.06 L557.82 557.36 L560.16 550.66 L562.51 543.96 L564.86 537.26 L567.23 530.55 L569.6 523.85 L571.98 517.15 L574.36 510.45 L576.76 503.74 L579.16 497.04 L581.56 490.34 L583.98 483.64 L586.4 476.93 L588.83 470.23"/>
<path d="M551.27 664.6 L553.4 657.9 L555.54 651.2 L557.69 644.49 L559.85 637.79 L562.01 631.09 L564.18 624.39 L566.36 617.68 L568.55 610.98 L570.75 604.28 L572.95 597.58 L575.16 590.87 L577.38 584.17 L579.61 577.47 L581.85 570.77 L584.09 564.06 L586.34 557.36 L588.6 550.66 L590.87 543.96 L593.14 537.26 L595.42 530.55 L597.71 523.85 L600.01 517.15 L602.31 510.45 L604.63 503.74 L606.95 497.04 L609.27 490.34 L611.61 483.64 L613.95 476.93 L616.3 470.23"/>
<path d="M575.1 664.6 L577.16 657.9 L579.23 651.2 L581.3 644.49 L583.39 637.79 L585.48 631.09 L587.58 624.39 L589.69 617.68 L591.81 610.98 L593.94 604.28 L596.07 597.58 L598.21 590.87 L600.37 584.17 L602.52 577.47 L604.69 570.77 L606.87 564.06 L609.05 557.36 L611.24 550.66 L613.44 543.96 L615.65 537.26 L617.86 530.55 L620.09 523.85 L622.32 517.15 L624.56 510.45 L626.8 503.74 L629.06 497.04 L631.32 490.34 L633.59 483.64 L635.87 476.93 L638.15 470.23"/>
<path d="M603.82 664.6 L605.79 657.9 L607.77 651.2 L609.76 644.49 L611.76 637.79 L613.76 631.09 L615.78 624.39 L617.8 617.68 L619.83 610.98 L621.87 604.28 L623.92 597.58 L625.98 590.87 L628.05 584.17 L630.12 577.47 L632.21 570.77 L634.3 564.06 L636.4 557.36 L638.51 550.66 L640.63 543.96 L642.75 537.26 L644.89 530.55 L647.03 523.85 L649.18 517.15 L651.34 510.45 L653.51 503.74 L655.68 497.04 L657.86 490.34 L660.05 483.64 L662.25 476.93 L664.46 470.23"/>
<path d="M627.09 664.6 L628.99 657.9 L630.89 651.2 L632.81 644.49 L634.73 637.79 L636.67 631.09 L638.61 624.39 L640.56 617.68 L642.53 610.98 L644.5 604.28 L646.48 597.58 L648.47 590.87 L650.46 584.17 L652.47 577.47 L654.48 570.77 L656.51 564.06 L658.54 557.36 L660.58 550.66 L662.63 543.96 L664.69 537.26 L666.76 530.55 L668.83 523.85 L670.92 517.15 L673.01 510.45 L675.11 503.74 L677.22 497.04 L679.34 490.34 L681.47 483.64 L683.6 476.93 L685.74 470.23"/>
<path d="M652.61 664.6 L654.42 657.9 L656.25 651.2 L658.09 644.49 L659.93 637.79 L661.79 631.09 L663.65 624.39 L665.53 617.68 L667.41 610.98 L669.3 604.28 L671.2 597.58 L673.12 590.87 L675.04 584.17 L676.97 577.47 L678.91 570.77 L680.85 564.06 L682.81 557.36 L684.78 550.66 L686.75 543.96 L688.74 537.26 L690.73 530.55 L692.73 523.85 L694.74 517.15 L696.76 510.45 L698.79 503.74 L700.83 497.04 L702.88 490.34 L704.93 483.64 L706.99 476.93 L709.07 470.23"/>
<path d="M673.84 664.6 L675.59 657.9 L677.35 651.2 L679.12 644.49 L680.9 637.79 L682.69 631.09 L684.48 624.39 L686.29 617.68 L688.11 610.98 L689.94 604.28 L691.77 597.58 L693.62 590.87 L695.48 584.17 L697.34 577.47 L699.22 570.77 L701.1 564.06 L702.99 557.36 L704.9 550.66 L706.81 543.96 L708.73 537.26 L710.66 530.55 L712.6 523.85 L714.55 517.15 L716.51 510.45 L718.48 503.74 L720.46 497.04 L722.44 490.34 L724.44 483.64 L726.44 476.93 L728.45 470.23"/>
<path d="M700.28 664.6 L701.94 657.9 L703.62 651.2 L705.3 644.49 L706.99 637.79 L708.7 631.09 L710.41 624.39 L712.14 617.68 L713.87 610.98 L715.61 604.28 L717.37 597.58 L719.13 590.87 L720.91 584.17 L722.69 577.47 L724.49 570.77 L726.29 564.06 L728.11 557.36 L729.93 550.66 L731.76 543.96 L733.61 537.26 L735.46 530.55 L737.32 523.85 L739.19 517.15 L741.07 510.45 L742.96 503.74 L744.86 497.04 L746.77 490.34 L748.69 483.64 L750.62 476.93 L752.56 470.23"/>
<path d="M722.22 664.6 L723.81 657.9 L725.41 651.2 L727.02 644.49 L728.65 637.79 L730.28 631.09 L731.92 624.39 L733.58 617.68 L735.24 610.98 L736.92 604.28 L738.6 597.58 L740.3 590.87 L742 584.17 L743.72 577.47 L745.45 570.77 L747.18 564.06 L748.93 557.36 L750.69 550.66 L752.46 543.96 L754.23 537.26 L756.02 530.55 L757.82 523.85 L759.62 517.15 L761.44 510.45 L763.27 503.74 L765.1 497.04 L766.95 490.34 L768.8 483.64 L770.67 476.93 L772.54 470.23"/>
</g>
</g>
<g font-size="9.4" fill="#006400" fill-opacity="0.62" text-anchor="middle">
<text x="434.68" y="468.2">1</text>
<text x="491.01" y="468.2">2</text>
<text x="551.44" y="468.2">4</text>
<text x="588.83" y="468.2">6</text>
<text x="616.3" y="468.2">8</text>
<text x="638.15" y="468.2">10</text>
<text x="664.46" y="468.2">13</text>
<text x="685.74" y="468.2">16</text>
<text x="709.07" y="468.2">20</text>
<text x="728.45" y="468.2">24</text>
<text x="752.56" y="468.2">30</text>
<text x="772.54" y="468.2">36</text>
</g>
<g clip-path="url(#cs)" fill="none" stroke-linejoin="round">
<path d="M523.6 48.6 L486.2 107.06 L439.6 154.82 L410.6 195.2 L396.4 230.19 L383.1 261.04 L372.3 288.64 L372.6 313.61 L374 336.41 L378.5 357.38 L391 376.79 L402.5 394.87 L413.7 411.77 L420.8 427.66 L426.4 442.63 L434.2 456.79 L443.3 470.23 L454.6 483.01 L462.1 495.2 L469.8 506.85 L478.3 518 L485.4 528.69 L492.8 538.96 L500.9 548.85 L508.9 558.38 L515 567.57 L520.6 576.45 L524.9 585.04 L531.3 593.36 L536.2 601.42 L536.9 609.24 L533.1 616.84 L532.2 624.22 L532.2 631.39 L539.5 638.38 L548.2 645.19 L556.6 648.12" fill="none" stroke="#0000ff" stroke-width="1.2" />
<path d="M292 48.6 L256.5 107.06 L261.4 154.82 L291.2 195.2 L285.3 230.19 L266.9 261.04 L291.2 288.64 L315.1 313.61 L320.8 336.41 L330.9 357.38 L337.3 376.79 L337.5 394.87 L332.6 411.77 L326.2 427.66 L320.6 442.63 L315.9 456.79 L331.2 470.23 L350 483.01 L380.1 495.2 L404.8 506.85 L434 518 L447.9 528.69 L453.2 538.96 L462.7 548.85 L472.6 558.38 L477.6 567.57 L481.6 576.45 L484 585.04 L498.9 593.36 L509.4 601.42 L510.8 609.24 L497.4 616.84 L493.2 624.22 L489.6 631.39 L512.2 638.38 L522.1 645.19 L537.6 648.12" fill="none" stroke="#009900" stroke-width="2.9" />
<path d="M528.3 48.6 L488.8 107.06 L441.5 154.82 L412.7 195.2 L398.4 230.19 L385 261.04 L374.1 288.64 L374.4 313.61 L375.8 336.41 L380.3 357.38 L393 376.79 L407.4 394.87 L420.1 411.77 L429.2 427.66 L437.7 442.63 L449 456.79 L461.7 470.23 L473.4 483.01 L481.6 495.2 L488.2 506.85 L493.8 518 L501.6 528.69 L510.8 538.96 L520.6 548.85 L529.8 558.38 L539 567.57 L547.1 576.45 L554.2 585.04 L558.1 593.36 L560.5 601.42 L561.9 609.24 L564.4 616.84 L567.9 624.22 L568.9 631.39 L565.1 638.38 L575 645.19 L582.5 648.12" fill="none" stroke="#ff0000" stroke-width="2.9" />
</g>
<text x="536.2" y="658.7" font-size="11.11" text-anchor="middle" font-weight="bold" fill="#009900" >45F</text>
<text x="581.7" y="658.7" font-size="11.11" text-anchor="middle" font-weight="bold" fill="#ff0000" >57F</text>
<g stroke="#000" stroke-width="1.11" fill="none">
<path d="M188.5 48.95V666.05M826.5 48.95V666.05M187.95 49.5H827.05M187.95 665.5H827.05"/>
<path d="M183.14 49.5H188M826 49.5H830.86M183.14 155.5H188M826 155.5H830.86M183.14 230.5H188M826 230.5H830.86M183.14 289.5H188M826 289.5H830.86M183.14 336.5H188M826 336.5H830.86M183.14 377.5H188M826 377.5H830.86M183.14 412.5H188M826 412.5H830.86M183.14 443.5H188M826 443.5H830.86M183.14 470.5H188M826 470.5H830.86M183.14 495.5H188M826 495.5H830.86M183.14 518.5H188M826 518.5H830.86M183.14 539.5H188M826 539.5H830.86M183.14 558.5H188M826 558.5H830.86M183.14 576.5H188M826 576.5H830.86M183.14 593.5H188M826 593.5H830.86M183.14 609.5H188M826 609.5H830.86M183.14 624.5H188M826 624.5H830.86M183.14 638.5H188M826 638.5H830.86M183.14 652.5H188M826 652.5H830.86M188.5 664.6V669.46M188.5 43.74V48.6M259.5 664.6V669.46M259.5 43.74V48.6M330.5 664.6V669.46M330.5 43.74V48.6M401.5 664.6V669.46M401.5 43.74V48.6M472.5 664.6V669.46M472.5 43.74V48.6M542.5 664.6V669.46M542.5 43.74V48.6M613.5 664.6V669.46M613.5 43.74V48.6M684.5 664.6V669.46M684.5 43.74V48.6M755.5 664.6V669.46M755.5 43.74V48.6M826.5 664.6V669.46M826.5 43.74V48.6"/>
</g>
<g font-size="13.89" text-anchor="end">
<text x="178.3" y="54">100</text>
<text x="178.3" y="235.59">200</text>
<text x="178.3" y="341.81">300</text>
<text x="178.3" y="417.17">400</text>
<text x="178.3" y="475.63">500</text>
<text x="178.3" y="523.4">600</text>
<text x="178.3" y="563.78">700</text>
<text x="178.3" y="598.76">800</text>
<text x="178.3" y="629.62">900</text>
<text x="178.3" y="657.22">1000</text>
</g>
<g font-size="13.89" text-anchor="middle">
<text x="188" y="685.1">−40</text>
<text x="258.89" y="685.1">−30</text>
<text x="329.78" y="685.1">−20</text>
<text x="400.67" y="685.1">−10</text>
<text x="471.56" y="685.1">0</text>
<text x="542.44" y="685.1">10</text>
<text x="613.33" y="685.1">20</text>
<text x="684.22" y="685.1">30</text>
<text x="755.11" y="685.1">40</text>
<text x="826" y="685.1">50</text>
</g>
<text x="507" y="706.3" font-size="16.67" text-anchor="middle" fill="#000" >Temperature (°C)</text>
<text transform="translate(134.2 356.6) rotate(-90)" font-size="16.67" text-anchor="middle">Pressure (hPa)</text>
<text x="507.4" y="39.6" font-size="13.89" text-anchor="middle" font-weight="bold" fill="#000" >HRRR Sounding at KDKB Init: 17z Mar 19 [F001] valid 18z Mar 19 2026</text>
<rect x="42.5" y="63.5" width="128.2" height="96.9" rx="2.2" ry="2.2" fill="#fff" fill-opacity="0.8" stroke="#ccc" stroke-opacity="0.8" stroke-width="1.39"/>
<path d="M47.2 72.5H69.9" stroke="#006400" stroke-width="1.04" stroke-opacity="0.7" stroke-dasharray="1.04 1.72"/>
<path d="M47.2 87.5H69.9" stroke="#a52a2a" stroke-width="0.7" stroke-opacity="0.55"/>
<path d="M47.2 103.5H69.9" stroke="#00008b" stroke-width="0.7" stroke-opacity="0.45"/>
<path d="M47.2 119.5H69.9" stroke="#0000ff" stroke-width="1.39"/>
<path d="M46.2 134.5H70.9" stroke="#009900" stroke-width="2.9"/>
<path d="M46.2 150.5H70.9" stroke="#ff0000" stroke-width="2.9"/>
<g font-size="11.11">
<text x="78.2" y="75.8">Sat. Mix. Ratio</text>
<text x="78.2" y="90.6">Dry Adiabats</text>
<text x="78.2" y="106.9">Pseudoadiabats</text>
<text x="78.2" y="121.7">Wetbulb</text>
<text x="78.2" y="137.8">Dewpoint</text>
<text x="78.2" y="153.9">Temperature</text>
</g>
<g shape-rendering="crispEdges">
<rect x="32" y="104" width="6" height="6" fill="#808080"/>
<rect x="31" y="151" width="7" height="7" fill="#808080"/>
<rect x="33" y="192" width="5" height="6" fill="#808080"/>
<rect x="34" y="227" width="4" height="6" fill="#808080"/>
<rect x="35" y="258" width="3" height="6" fill="#808080"/>
<rect x="36" y="285" width="2" height="7" fill="#808080"/>
<rect x="37" y="310" width="1" height="7" fill="#808080"/>
<rect x="38" y="373" width="0.6" height="7" fill="#f1f622"/>
<rect x="38" y="391" width="0.7" height="7" fill="#f1f522"/>
<rect x="38" y="408" width="1.2" height="7" fill="#f2f222"/>
<rect x="38" y="424" width="2.6" height="7" fill="#f5eb24"/>
<rect x="38" y="439" width="3.6" height="7" fill="#f7e525"/>
<rect x="38" y="453" width="5" height="7" fill="#f8de25"/>
<rect x="38" y="467" width="5" height="6" fill="#f8de25"/>
<rect x="38" y="480" width="6" height="6" fill="#fad825"/>
<rect x="38" y="492" width="9" height="6" fill="#fdc827"/>
<rect x="38" y="503" width="12" height="7" fill="#feb82d"/>
<rect x="38" y="515" width="15" height="6" fill="#fca935"/>
<rect x="38" y="525" width="18" height="7" fill="#f99a3d"/>
<rect x="38" y="536" width="20" height="6" fill="#f79143"/>
<rect x="38" y="545" width="21" height="7" fill="#f58d45"/>
<rect x="38" y="555" width="21" height="7" fill="#f58d45"/>
<rect x="38" y="564" width="22" height="7" fill="#f48948"/>
<rect x="38" y="573" width="23" height="7" fill="#f2854a"/>
<rect x="38" y="582" width="23" height="6" fill="#f2854a"/>
<rect x="38" y="590" width="21" height="7" fill="#f58d45"/>
<rect x="38" y="598" width="19" height="7" fill="#f89640"/>
<rect x="38" y="606" width="19" height="6" fill="#f89640"/>
<rect x="38" y="613" width="19" height="7" fill="#f89640"/>
<rect x="38" y="621" width="20" height="6" fill="#f79143"/>
<rect x="38" y="628" width="19" height="7" fill="#f89640"/>
<rect x="38" y="635" width="13" height="7" fill="#fdb330"/>
<rect x="38" y="642" width="6" height="6" fill="#fad825"/>
</g>
<path d="M23.5 485.5H100" stroke="#ff0000" stroke-width="2.78" stroke-dasharray="8.33 2.78" fill="none"/>
<path d="M23.5 518.5H100" stroke="#ff0000" stroke-width="2.78" stroke-dasharray="8.33 2.78" fill="none"/>
<text x="99.8" y="480.3" font-size="11.11" text-anchor="end" font-weight="bold" fill="#ff0000" >DGZ</text>
<text x="99.8" y="530.8" font-size="11.11" text-anchor="end" font-weight="bold" fill="#ff0000" >DGZ</text>
<path d="M38.5 665V670M69.5 665V670M100.5 665V670" stroke="#000" stroke-width="1.11" fill="none"/>
<g font-size="9.72" text-anchor="middle">
<text x="39.2" y="681.8">0</text>
<text x="68.4" y="681.8">−1</text>
<text x="99.4" y="681.8">−2</text>
</g>
<text x="69.9" y="702.8" font-size="13.89" text-anchor="middle" fill="#000" >Omega (Pa/s)</text>
<g stroke="#000" stroke-width="0.88" fill="#000" stroke-linejoin="round">
<path d="M844.91 635.85 L849.69 660.4 L848.79 655.79 L844.18 658.28 L848.79 655.79 L844.91 635.85Z"/>
<path d="M849.69 619.12 L844.91 643.66 L845.81 639.06 L840.6 639.64 L845.81 639.06 L849.69 619.12Z"/>
<path d="M857.9 602.62 L836.7 615.87 L828.75 609.04 L836.7 615.87 L857.9 602.62Z"/>
<path d="M859.43 596.38 L835.17 590.34 L834.56 579.88 L835.17 590.34 L838.2 591.09 L837.9 585.86 L838.2 591.09 L859.43 596.38Z"/>
<path d="M857.9 583.08 L836.7 569.83 L839.35 559.69 L836.7 569.83 L839.35 571.48 L840.67 566.42 L839.35 571.48 L857.9 583.08Z"/>
<path d="M859.05 562.65 L835.55 554.1 L836.04 543.64 L835.55 554.1 L838.49 555.17 L838.73 549.94 L838.49 555.17 L859.05 562.65Z"/>
<path d="M858.53 544.44 L836.07 533.48 L837.64 523.13 L836.07 533.48 L838.87 534.85 L840.45 524.5 L838.87 534.85 L858.53 544.44Z"/>
<path d="M855.98 526.99 L838.62 509 L843.64 499.81 L838.62 509 L840.79 511.25 L845.81 502.06 L840.79 511.25 L842.96 513.5 L845.47 508.9 L842.96 513.5 L855.98 526.99Z"/>
<path d="M853.55 506.03 L841.05 484.37 L848.15 476.67 L841.05 484.37 L842.61 487.08 L849.71 479.37 L842.61 487.08 L844.17 489.79 L851.27 482.08 L844.17 489.79 L853.55 506.03Z"/>
<path d="M852.18 481.74 L842.42 458.73 L850.4 451.94 L842.42 458.73 L843.64 461.6 L851.62 454.82 L843.64 461.6 L844.86 464.48 L852.84 457.69 L844.86 464.48 L846.08 467.35 L854.06 460.57 L846.08 467.35 L852.18 481.74Z"/>
<path d="M852.28 454.09 L842.32 431.17 L852.73 430.04 L844.81 436.9 L852.28 454.09Z"/>
<path d="M852.18 423.28 L842.42 400.27 L852.84 399.24 L844.86 406.02 L846.08 408.9 L854.06 402.11 L846.08 408.9 L852.18 423.28Z"/>
<path d="M851.98 406.46 L842.62 383.28 L853.06 382.43 L844.96 389.07 L846.13 391.97 L854.23 385.33 L846.13 391.97 L851.98 406.46Z"/>
<path d="M851.98 388.38 L842.62 365.2 L853.06 364.35 L844.96 371 L846.13 373.89 L854.23 367.25 L846.13 373.89 L847.3 376.79 L855.4 370.15 L847.3 376.79 L851.98 388.38Z"/>
<path d="M852.18 368.88 L842.42 345.87 L852.84 344.84 L844.86 351.62 L846.08 354.5 L854.06 347.72 L846.08 354.5 L847.3 357.38 L855.28 350.59 L847.3 357.38 L848.52 360.25 L856.51 353.47 L848.52 360.25 L852.18 368.88Z"/>
<path d="M851.78 348.08 L842.82 324.74 L853.28 324.07 L845.06 330.57 L846.18 333.49 L854.4 326.99 L846.18 333.49 L847.3 336.41 L855.52 329.91 L847.3 336.41 L848.42 339.33 L856.64 332.82 L848.42 339.33 L849.54 342.24 L857.76 335.74 L849.54 342.24 L851.78 348.08Z"/>
<path d="M851.45 325.4 L843.15 301.82 L853.62 301.45 L845.22 307.72 L845.74 309.19 L856.21 308.82 L847.82 315.09 L848.86 318.03 L853.05 314.9 L848.86 318.03 L851.45 325.4Z"/>
<path d="M851.43 300.44 L843.17 276.85 L853.64 276.49 L845.23 282.75 L845.75 284.22 L856.22 283.86 L847.82 290.12 L848.85 293.07 L853.05 289.94 L848.85 293.07 L851.43 300.44Z"/>
<path d="M852.44 272.44 L842.16 249.65 L852.56 248.38 L844.73 255.35 L846.01 258.19 L853.84 251.23 L846.01 258.19 L847.3 261.04 L855.13 254.08 L847.3 261.04 L848.59 263.89 L856.41 256.93 L848.59 263.89 L849.87 266.74 L857.7 259.78 L849.87 266.74 L852.44 272.44Z"/>
<path d="M853.74 240.9 L840.86 219.47 L851.04 217 L844.08 224.83 L845.69 227.51 L852.65 219.68 L845.69 227.51 L847.3 230.19 L854.26 222.36 L847.3 230.19 L848.91 232.87 L855.87 225.04 L848.91 232.87 L850.52 235.54 L857.48 227.72 L850.52 235.54 L852.13 238.22 L855.61 234.31 L852.13 238.22 L853.74 240.9Z"/>
<path d="M852.97 206.34 L841.63 184.07 L851.95 182.31 L844.46 189.64 L845.88 192.42 L853.37 185.1 L845.88 192.42 L847.3 195.2 L854.79 187.88 L847.3 195.2 L848.72 197.99 L856.21 190.67 L848.72 197.99 L850.14 200.77 L857.63 193.45 L850.14 200.77 L852.97 206.34Z"/>
<path d="M854.82 164.8 L839.78 144.84 L849.64 141.32 L843.54 149.83 L845.42 152.33 L851.53 143.81 L845.42 152.33 L847.3 154.82 L853.41 146.31 L847.3 154.82 L849.18 157.32 L855.29 148.8 L849.18 157.32 L851.06 159.81 L854.11 155.56 L851.06 159.81 L854.82 164.8Z"/>
<path d="M854.11 117.54 L840.49 96.57 L850.58 93.75 L843.9 101.82 L845.6 104.44 L852.28 96.37 L845.6 104.44 L847.3 107.06 L853.98 98.99 L847.3 107.06 L854.11 117.54Z"/>
<path d="M854.47 58.84 L840.13 38.36 L846.53 30.06 L840.13 38.36 L841.92 40.92 L848.32 32.62 L841.92 40.92 L843.72 43.48 L850.11 35.18 L843.72 43.48 L845.51 46.04 L851.91 37.74 L845.51 46.04 L854.47 58.84Z"/>
</g>
<clipPath id="ch"><rect x="876.5" y="49.5" width="220.0" height="188.0"/></clipPath>
<g clip-path="url(#ch)" fill="none">
<g stroke="#808080" stroke-width="0.83" stroke-opacity="0.8" stroke-dasharray="0.8 1.15">
<ellipse cx="942.6" cy="65.7" rx="20.05" ry="17.18"/>
<ellipse cx="942.6" cy="65.7" rx="40.1" ry="34.35"/>
<ellipse cx="942.6" cy="65.7" rx="60.15" ry="51.52"/>
<ellipse cx="942.6" cy="65.7" rx="80.2" ry="68.7"/>
<ellipse cx="942.6" cy="65.7" rx="100.25" ry="85.88"/>
<ellipse cx="942.6" cy="65.7" rx="120.3" ry="103.05"/>
<ellipse cx="942.6" cy="65.7" rx="140.35" ry="120.23"/>
<ellipse cx="942.6" cy="65.7" rx="160.4" ry="137.4"/>
<ellipse cx="942.6" cy="65.7" rx="180.45" ry="154.57"/>
<ellipse cx="942.6" cy="65.7" rx="200.5" ry="171.75"/>
<ellipse cx="942.6" cy="65.7" rx="220.55" ry="188.93"/>
<ellipse cx="942.6" cy="65.7" rx="240.6" ry="206.1"/>
<ellipse cx="942.6" cy="65.7" rx="260.65" ry="223.28"/>
<ellipse cx="942.6" cy="65.7" rx="280.7" ry="240.45"/>
<ellipse cx="942.6" cy="65.7" rx="300.75" ry="257.62"/>
</g>
<path d="M876.5 66.5H1096.5M943.5 49.5V237.5" stroke="#000" stroke-opacity="0.8" stroke-width="1.11"/>
</g>
<g font-size="10.7" fill="#808080" text-anchor="middle">
<text x="922.55" y="82.7">10</text>
<text x="902.5" y="82.7">20</text>
<text x="962.65" y="82.7">10</text>
<text x="982.7" y="82.7">20</text>
<text x="1002.75" y="82.7">30</text>
<text x="1022.8" y="82.7">40</text>
<text x="1042.85" y="82.7">50</text>
<text x="1062.9" y="82.7">60</text>
<text x="1082.95" y="82.7">70</text>
</g>
<g clip-path="url(#ch)" fill="none" stroke-linejoin="round" stroke-linecap="butt">
<path d="M938.9 55 L938.2 54.2 L939 53.4 L940.35 53 L942 53.1 L943.5 53.7 L945.9 56.1 L948.3 58.3 L950.7 58.75 L953.3 58.3 L955.5 57.55 L957.9 56.35 L960.3 55.9 L963.2 57.1 L966.6 59.95 L969.5 62.85 L971.4 66.7 L972.8 71 L973.1 72.95 L972.8 75.5 L971.9 77.3 L969 79.2 L972.1 78.5" fill="none" stroke="#ff0000" stroke-width="2.25" />
<path d="M979.6 78 L980.5 80.6 L980.1 84.8 L977.7 91.2 L972.1 100.05 L970.9 103.3 L970.9 110.5 L971.7 117.7 L973.7 125.7 L976.5 135.3 L978 137.6" fill="none" stroke="#009900" stroke-width="2.25" />
<path d="M981.4 142.9 L982.2 144.6 L986.1 153.05 L989.9 163 L996.8 174.6 L1001.4 188.4 L1005.6 204.6" fill="none" stroke="#bf00bf" stroke-width="2.25" />
<path d="M1008.2 216 L1010 221 L1011.8 225.6 L1011.4 230.5 L1011.2 235.4 L1011.6 230 L1012.3 224.5 L1013.6 217.5 L1015.5 209.8 L1016.5 207.4 L1018.2 206.6 L1040 206.7" fill="none" stroke="#0000ff" stroke-width="2.25" />
</g>
<g font-size="11.8" text-anchor="middle" stroke="#fff" stroke-width="2.2" stroke-linejoin="round" paint-order="stroke">
<text x="1007.3" y="215">9</text>
<text x="979.9" y="144.3">6</text>
<text x="976.8" y="80.1">3</text>
<text x="972.5" y="82.8">2</text>
<text x="953.3" y="61.6">1</text>
</g>
<ellipse cx="937.2" cy="86.5" rx="8.5" ry="7.3" fill="none" stroke="#000" stroke-width="1.6"/>
<text x="937.2" y="89.6" font-size="8.5" text-anchor="middle" textLength="10.4" lengthAdjust="spacingAndGlyphs">RM</text>
<ellipse cx="991.4" cy="67.8" rx="8.5" ry="7.3" fill="none" stroke="#000" stroke-width="1.6"/>
<text x="991.4" y="70.9" font-size="8.5" text-anchor="middle" textLength="9.9" lengthAdjust="spacingAndGlyphs">LM</text>
<rect x="876.5" y="49.5" width="220.0" height="188.0" fill="none" stroke="#000" stroke-width="1.11"/>
<text x="985.6" y="251" font-size="11.11" text-anchor="middle" fill="#000" >Hodograph (wind in kt, height in km)</text>
<text x="877.1" y="286" font-size="13.89" xml:space="preserve"><tspan font-family="'DejaVu Sans Mono','Liberation Mono',monospace" letter-spacing="-0.05">SRH 0-1km:       35</tspan><tspan x="1043.9" font-style="italic">m</tspan><tspan x="1058.0" font-size="9.72" dy="-4.9">2</tspan><tspan x="1064.5" font-style="italic" dy="4.9">s</tspan><tspan x="1071.2" font-size="9.72" dy="-4.9">−</tspan><tspan x="1080.8" font-size="9.72">2</tspan></text>
<text x="877.1" y="303.2" font-size="13.89" xml:space="preserve"><tspan font-family="'DejaVu Sans Mono','Liberation Mono',monospace" letter-spacing="-0.05">SRH 0-3km:      129</tspan><tspan x="1043.9" font-style="italic">m</tspan><tspan x="1058.0" font-size="9.72" dy="-4.9">2</tspan><tspan x="1064.5" font-style="italic" dy="4.9">s</tspan><tspan x="1071.2" font-size="9.72" dy="-4.9">−</tspan><tspan x="1080.8" font-size="9.72">2</tspan></text>
<text x="876.6" y="322" font-size="13.89" font-family="'DejaVu Sans Mono','Liberation Mono',monospace" fill="#000" xml:space="preserve">SBCAPE:           0 J/kg</text>
<text x="876.6" y="339.3" font-size="13.89" font-family="'DejaVu Sans Mono','Liberation Mono',monospace" fill="#000" xml:space="preserve">MLCAPE:           0 J/kg</text>
<text x="876.6" y="356.7" font-size="13.89" font-family="'DejaVu Sans Mono','Liberation Mono',monospace" fill="#000" xml:space="preserve">MUCAPE:           0 J/kg</text>
<text x="876.6" y="374.1" font-size="13.89" font-family="'DejaVu Sans Mono','Liberation Mono',monospace" fill="#000" xml:space="preserve">SBCIN:            0 J/kg</text>
<text x="876.6" y="391.8" font-size="13.89" font-family="'DejaVu Sans Mono','Liberation Mono',monospace" fill="#000" xml:space="preserve">MLCIN:            0 J/kg</text>
<text x="876.6" y="408.9" font-size="13.89" font-family="'DejaVu Sans Mono','Liberation Mono',monospace" fill="#3333cc" xml:space="preserve">DCAPE:           84 J/kg</text>
<text x="876.6" y="426.4" font-size="13.89" font-family="'DejaVu Sans Mono','Liberation Mono',monospace" fill="#a52a2a" xml:space="preserve">SHR 200-850mb:   96 kt</text>
<text x="876.6" y="443.6" font-size="13.89" font-family="'DejaVu Sans Mono','Liberation Mono',monospace" fill="#8b5a13" xml:space="preserve">RH 300-850mb:    41 %</text>
<text x="876.6" y="461.6" font-size="13.89" font-family="'DejaVu Sans Mono','Liberation Mono',monospace" fill="#000" xml:space="preserve">PWAT:          0.54 in</text>
<clipPath id="ce"><rect x="892.5" y="500.5" width="204.0" height="165.0"/></clipPath>
<g clip-path="url(#ce)" fill="none">
<path d="M1025 500.7 L1009 505.5 L1002.3 510.8 L996.9 516.7 L988.9 523.4 L978.2 531.4 L972.4 538.1 L970.2 548.8 L966.2 555.5 L964.1 560.8 L963.5 575.5 L964.9 582.2 L966.7 587.5 L967 603.6 L968.9 608.9 L970.7 614.8 L965.7 620.4 L954.2 625.8 L940.8 636.4 L952.8 647.7 L967.5 650.9" fill="none" stroke="#3399b3" stroke-width="2.8" stroke-linejoin="round"/>
</g>
<rect x="892.5" y="500.5" width="204.0" height="165.0" fill="none" stroke="#000" stroke-width="1.11"/>
<path d="M892.5 522.5h4.86M892.5 566.5h4.86M892.5 610.5h4.86M892.5 653.5h4.86M935.5 665.5v4.86M982.5 665.5v4.86M1028.5 665.5v4.86M1075.5 665.5v4.86" stroke="#000" stroke-width="1.11" fill="none"/>
<g font-size="10.6">
<text x="902.3" y="526.3">400</text>
<text x="902.3" y="570.4">600</text>
<text x="902.3" y="613.7">800</text>
</g>
<g font-size="10.6" text-anchor="middle">
<text x="935.3" y="655.9">300</text>
<text x="982.0" y="655.9">310</text>
<text x="1028.6" y="655.9">320</text>
<text x="1075.3" y="655.9">330</text>
</g>
<text x="993.5" y="678" font-size="11.11" text-anchor="middle" fill="#000" >Equivalent Pot. Temperature (K)</text>
<text transform="translate(884.0 583) rotate(-90)" font-size="11.11" text-anchor="middle">Pressure (hPa)</text>
<text x="986.8" y="35.9" font-size="15.28" text-anchor="middle" font-weight="bold" fill="#808080" >TROPICALTIDBITS.COM</text>
<g shape-rendering="crispEdges">
<rect x="0" y="0" width="1133" height="1" fill="#a0a0a0"/><rect x="0" y="0" width="1" height="747" fill="#a0a0a0"/>
<rect x="1" y="1" width="1131" height="1" fill="#696969"/><rect x="1" y="1" width="1" height="745" fill="#696969"/>
<rect x="2" y="746" width="1131" height="1" fill="#e3e3e3"/><rect x="1132" y="1" width="1" height="746" fill="#e3e3e3"/>
<rect x="0" y="747" width="1134" height="1" fill="#fff"/><rect x="1133" y="0" width="1" height="748" fill="#fff"/>
</g>
</svg>
</body></html>
